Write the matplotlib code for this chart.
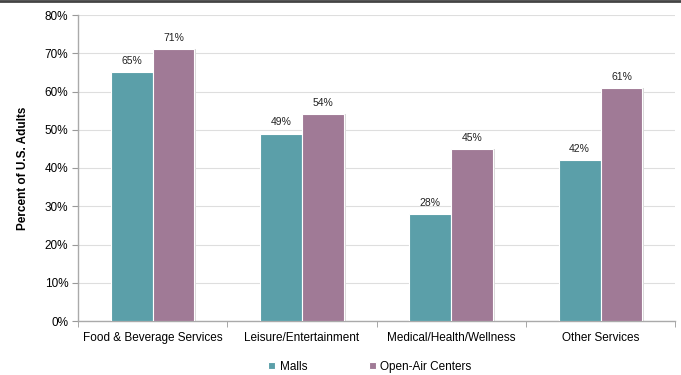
import numpy as np
import matplotlib.pyplot as plt
from matplotlib.ticker import PercentFormatter

plt.rcParams['font.family'] = ['Liberation Sans', 'DejaVu Sans']

categories = ['Food & Beverage Services', 'Leisure/Entertainment',
              'Medical/Health/Wellness', 'Other Services']
malls = [65, 49, 28, 42]
open_air = [71, 54, 45, 61]
series_names = ['Malls', 'Open-Air Centers']
colors = ['#5B9FA9', '#A07A96']

fig = plt.figure(figsize=(6.81, 3.75), dpi=100)
ax = fig.add_axes([0.1145, 0.144, 0.877, 0.816])

x = np.arange(len(categories))
w = 0.28
for vals, off, col, name in [(malls, -w / 2, colors[0], series_names[0]),
                             (open_air, w / 2, colors[1], series_names[1])]:
    # soft shadow on the right side
    ax.bar(x + off + 0.012, vals, w, bottom=0, color='#d8d8d8', zorder=2)
    bars = ax.bar(x + off, vals, w, color=col, edgecolor='white', linewidth=0.8,
                  label=name, zorder=3)
    for b, v in zip(bars, vals):
        ax.text(b.get_x() + b.get_width() / 2, v + 1.6, f'{v}%', ha='center',
                va='bottom', fontsize=7.5, color='#222222')

ax.set_xlim(-0.5, len(categories) - 0.5)
ax.set_ylim(0, 80)
ax.set_yticks(range(0, 81, 10))
ax.yaxis.set_major_formatter(PercentFormatter(decimals=0))
ax.set_xticks(x)
ax.set_xticklabels(categories)
ax.set_xticks(np.arange(len(categories) + 1) - 0.5, minor=True)
ax.tick_params(axis='x', which='major', length=0, pad=8, labelsize=8.5)
ax.tick_params(axis='x', which='minor', length=4, color='#999999')
ax.tick_params(axis='y', length=4, color='#999999', labelsize=8.5, pad=3)
ax.grid(axis='y', color='#dedede', linewidth=0.8, zorder=0)
ax.set_axisbelow(True)
for s in ['top', 'right']:
    ax.spines[s].set_visible(False)
for s in ['left', 'bottom']:
    ax.spines[s].set_color('#aaaaaa')
    ax.spines[s].set_linewidth(1)

ax.set_ylabel('Percent of U.S. Adults', fontsize=8.5, fontweight='bold', labelpad=11)

handles, labels = ax.get_legend_handles_labels()
fig.legend(handles, labels, loc='center', ncol=2, frameon=False,
           fontsize=8.5, bbox_to_anchor=(0.543, 0.022), handlelength=0.6,
           handleheight=0.6, columnspacing=5.2, handletextpad=0.4)

fig.add_artist(plt.Line2D([0, 1], [0.997, 0.997], color='#444444', linewidth=2))

fig.savefig('out.png', dpi=100)
